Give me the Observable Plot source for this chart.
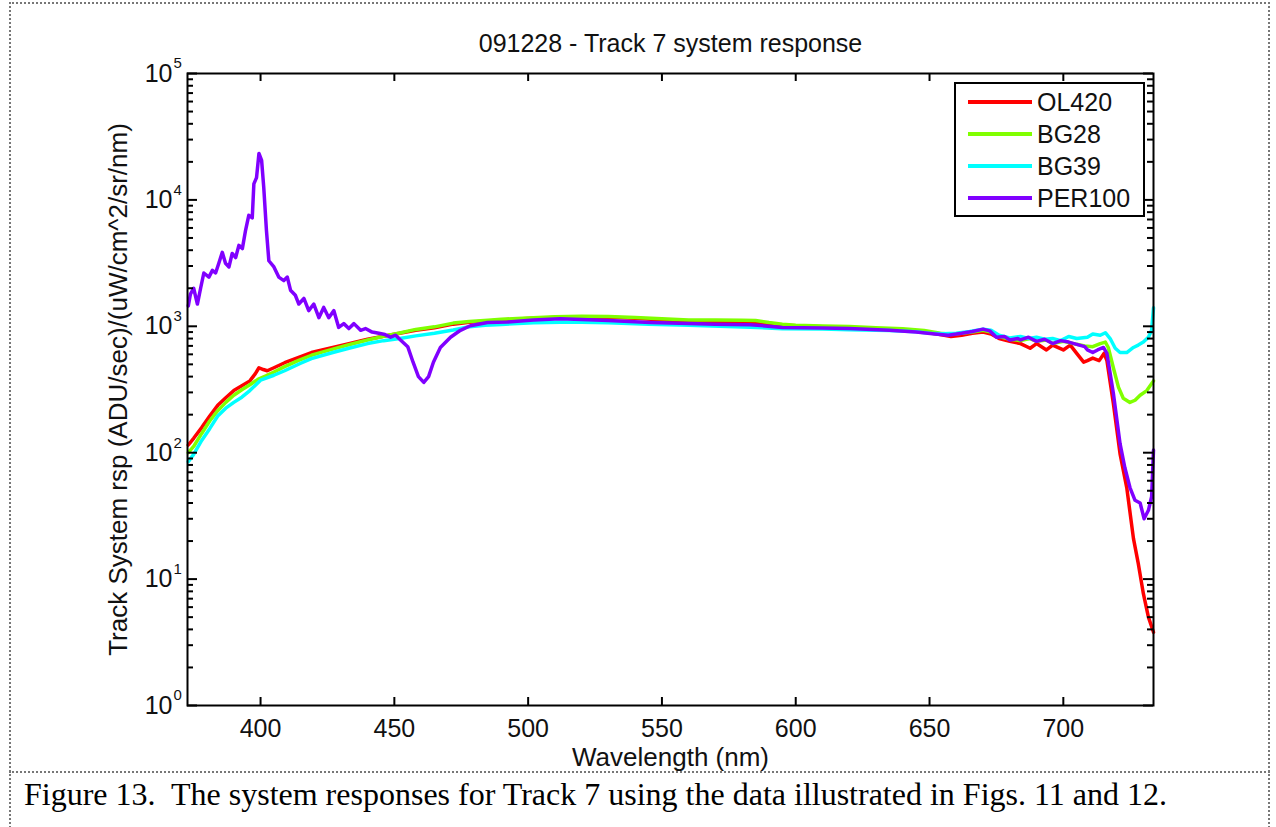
<!DOCTYPE html>
<html><head><meta charset="utf-8">
<script src="https://cdn.jsdelivr.net/npm/d3@7"></script>
<script src="https://cdn.jsdelivr.net/npm/@observablehq/plot@0.6"></script>
<style>
body{margin:0;background:#fff;width:1276px;height:827px;overflow:hidden;position:relative;font-family:"Liberation Sans",Arial,sans-serif;}
#border{position:absolute;left:9px;top:2px;width:1257px;height:840px;border-left:2px dotted #777;border-right:2px dotted #777;border-top:2px dotted #777;}
#sep{position:absolute;left:9px;top:771px;width:1261px;border-top:2px dotted #777;}
#chart{position:absolute;left:0;top:0;}
#legend{position:absolute;left:954px;top:82px;width:187px;height:131px;border:2px solid #000;background:#fff;}
#legend .row{position:absolute;left:0;width:187px;height:32px;}
#legend .sw{position:absolute;left:12px;top:14px;width:64px;height:4px;}
#legend .lb{position:absolute;left:81px;top:0;line-height:32px;font-size:25px;color:#111;}
#caption{position:absolute;left:24px;top:776px;font-family:"Liberation Serif","Times New Roman",serif;font-size:32px;color:#000;white-space:nowrap;}
</style></head>
<body>
<div id="border"></div>
<div id="sep"></div>
<div id="chart"></div>
<div id="legend"></div>
<div id="caption">Figure 13.&nbsp; The system responses for Track 7 using the data illustrated in Figs. 11 and 12.</div>
<script>
// ---- data ----
const seriesNames = ["OL420", "BG28", "BG39", "PER100"];
const seriesColors = ["#ff0000", "#80ff00", "#00ffff", "#8000ff"];

const wlOL420 = [373,375,378,381,384,387,390,393,396,398,399.4,401,402.5,405,409,414,419,423,427,433,440,446,452,458,465,472,478,485,490,496,502,510,520,530,540,550,560,570,580,590,600,610,620,630,640,648,654,658,662,666,670,673,676,680,684,687.6,690,693.7,696,700,702.6,705,707.6,709,711,713.4,715.2,716.3,718.7,721.2,723.7,726.2,728,729.9,731.8,733.7];
const rspOL420 = [115,130,158,195,237,272,310,338,370,420,470,455,445,470,515,565,620,650,680,730,790,835,880,930,975,1040,1075,1100,1120,1140,1160,1175,1185,1180,1160,1120,1100,1090,1075,1040,1010,990,975,955,935,900,860,830,850,880,900,870,800,760,730,670,730,650,710,650,710,610,520,535,560,535,610,535,245,98,53,21,13.3,7.7,5,3.8];

const wlBG28 = [373,375,378,381,384,387,390,393,396,399,402,405,409,414,419,423,427,433,440,446,452,458,465,472,478,485,490,496,502,510,520,530,540,550,560,570,580,585,590,595,600,610,620,630,640,648,654,658,662,666,670,673,676,680,684,687.6,690,693.7,696,700,702.6,705,708,711,713.8,715.7,716.8,718.7,720.6,722.4,724.9,726.8,728.7,731.2,733.7];
const rspBG28 = [100,112,142,178,215,250,285,315,345,380,405,435,480,535,590,625,660,715,780,835,885,945,990,1060,1090,1115,1135,1155,1170,1190,1200,1195,1175,1145,1120,1120,1115,1110,1070,1040,1020,1005,995,975,955,925,880,865,880,900,930,900,830,790,770,800,760,780,730,760,740,720,700,690,730,750,680,470,330,270,250,260,285,310,370];

const wlBG39 = [373,375,378,381,384,387,390,393,396,400,405,409,415,419,427,433,440,446,452,458,465,472,477,484,490,502,512,520,530,545,560,583,595,610,620,635,645,650,655,660,665,670,673,676,680,684,687,690,693,696,699,702,705,709,711,713.8,715.7,717.5,719.4,721.2,723.7,726.2,728,729.9,731.8,733,733.7];
const rspBG39 = [85,97,125,155,195,225,250,275,310,375,410,445,510,555,620,670,730,770,800,840,880,935,985,1020,1035,1065,1075,1075,1065,1040,1020,985,955,950,940,925,905,880,875,880,910,950,930,850,810,830,800,820,790,800,770,830,800,820,870,850,890,800,670,620,620,680,710,750,820,930,1400];

const wlPER100 = [373,373.8,375,376.4,377.6,378.8,380.7,382,383.2,384.4,385.7,386.9,388.2,389.4,390.7,391.9,393.2,394.4,395.6,396.9,397.5,398.5,399.4,400.4,401.2,402.2,403.1,405,406.8,408.7,410,411.2,413,414.3,416.2,418,419.9,421.8,423.6,425.5,427.4,429.2,431.1,433,434.9,437.4,439.2,441.7,444.2,446.5,448.6,450.5,452.3,455,457,459,461,462.8,464.6,467.2,471,474.7,478.4,484.8,492.3,502,512,520,530,545.7,560,570,583,595,610,620,635,645,652,657,662,666,670,672.5,675,678,680,683,684,687,690,693,696,699,702,705,708,709,711,712.8,715,716.3,718.7,721.2,723,724.9,726.8,728.7,730.2,731.8,733,733.7];
const rspPER100 = [1450,1800,2000,1500,2000,2640,2450,2770,2640,3150,3850,3150,2950,3770,3500,4370,4120,5750,7550,7200,13400,15000,23300,20500,12500,5750,3300,2950,2450,2300,2450,1930,1760,1500,1660,1330,1500,1170,1410,1170,1330,980,1050,960,1050,930,960,900,880,860,820,850,780,690,520,400,360,400,520,680,820,930,1010,1070,1080,1120,1150,1130,1110,1070,1050,1040,1030,980,970,960,930,900,870,850,880,910,950,920,820,830,780,800,780,820,760,790,730,770,750,720,690,650,620,650,680,610,295,118,76,53,42,40,30,35,45,105];

const xTicks = [400, 450, 500, 550, 600, 650, 700];
const yMajor = [1, 10, 100, 1000, 10000, 100000];
const yMinor = [];
for (let k = 0; k < 5; k++) for (let m = 2; m <= 9; m++) yMinor.push(m * Math.pow(10, k));

const titleText = "091228 - Track 7 system response";
const xLabel = "Wavelength (nm)";
const yLabel = "Track System rsp (ADU/sec)/(uW/cm^2/sr/nm)";

// ---- build ----
const W = 1276, H = 782;
const mL = 187, mR = 123, mT = 73, mB = 77;
const plotW = W - mL - mR, plotH = H - mT - mB;

const wls = [wlOL420, wlBG28, wlBG39, wlPER100];
const rsps = [rspOL420, rspBG28, rspBG39, rspPER100];
const lineMarks = seriesNames.map((n, i) =>
  Plot.line(wls[i].map((w, j) => ({wl: w, rsp: rsps[i][j]})),
    {x: "wl", y: "rsp", stroke: seriesColors[i], strokeWidth: 3.5, strokeLinejoin: "round"}));

const chart = Plot.plot({
  width: W, height: H,
  marginLeft: mL, marginRight: mR, marginTop: mT, marginBottom: mB,
  style: {fontFamily: "'Liberation Sans', Arial, sans-serif", background: "transparent", color: "#111", overflow: "visible"},
  x: {type: "linear", domain: [372.7, 733.7], axis: null},
  y: {type: "log", domain: [1, 100000], axis: null},
  marks: [
    ...lineMarks,
    Plot.frame({stroke: "#000", strokeWidth: 2}),
    Plot.tickX(xTicks, {x: d => d, insetTop: plotH - 8, stroke: "#000", strokeWidth: 2}),
    Plot.tickX(xTicks, {x: d => d, insetBottom: plotH - 8, stroke: "#000", strokeWidth: 2}),
    Plot.tickY(yMajor, {y: d => d, insetRight: plotW - 10, stroke: "#000", strokeWidth: 2}),
    Plot.tickY(yMajor, {y: d => d, insetLeft: plotW - 10, stroke: "#000", strokeWidth: 2}),
    Plot.tickY(yMinor, {y: d => d, insetRight: plotW - 6, stroke: "#000", strokeWidth: 2}),
    Plot.tickY(yMinor, {y: d => d, insetLeft: plotW - 6, stroke: "#000", strokeWidth: 2}),
    Plot.text(xTicks, {x: d => d, frameAnchor: "bottom", dy: 23, text: d => String(d), fontSize: 25, fill: "#111", lineAnchor: "middle"}),
    Plot.text(yMajor, {y: d => d, frameAnchor: "left", dx: -15, textAnchor: "end", text: () => "10", fontSize: 25, fill: "#111", lineAnchor: "middle"}),
    Plot.text(yMajor, {y: d => d, frameAnchor: "left", dx: -14, dy: -10, textAnchor: "start", text: d => String(Math.round(Math.log10(d))), fontSize: 15, fill: "#111", lineAnchor: "middle"}),
    Plot.text([titleText], {frameAnchor: "top", dy: -30, fontSize: 25, fill: "#111", lineAnchor: "middle", textAnchor: "middle"}),
    Plot.text([xLabel], {frameAnchor: "bottom", dy: 52, fontSize: 26, fill: "#111", lineAnchor: "middle", textAnchor: "middle"}),
    Plot.text([yLabel], {frameAnchor: "left", dx: -69, rotate: -90, fontSize: 26, fill: "#111", lineAnchor: "middle", textAnchor: "middle"})
  ]
});
document.getElementById("chart").appendChild(chart);

// legend
const leg = document.getElementById("legend");
seriesNames.forEach((n, i) => {
  const row = document.createElement("div");
  row.className = "row";
  row.style.top = (2 + i * 32) + "px";
  const sw = document.createElement("div");
  sw.className = "sw";
  sw.style.background = seriesColors[i];
  const lb = document.createElement("div");
  lb.className = "lb";
  lb.textContent = n;
  row.appendChild(sw); row.appendChild(lb);
  leg.appendChild(row);
});
</script>
</body></html>
